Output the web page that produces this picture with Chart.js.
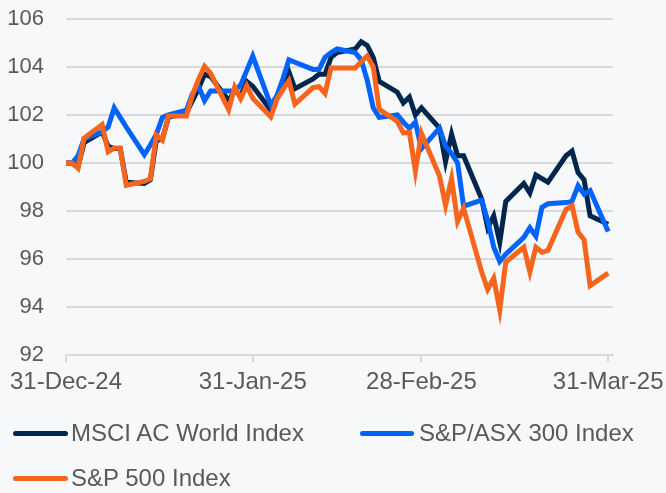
<!DOCTYPE html>
<html>
<head>
<meta charset="utf-8">
<script src="https://cdn.jsdelivr.net/npm/chart.js@4.4.1/dist/chart.umd.min.js"></script>
<style>
  body { margin: 0; background: #f7f8fa; }
  #wrap { position: relative; width: 666px; height: 493px; }
  .key { position: absolute; height: 5px; border-radius: 3px; }
  .lbl { position: absolute; font: 24px "Liberation Sans", Arial, sans-serif; line-height: 24px; color: #595959; white-space: nowrap; }
</style>
</head>
<body>
<div id="wrap">
  <canvas id="chart" width="666" height="493"></canvas>
  <div class="key" style="left:13px;top:431px;width:55px;background:#00264d"></div>
  <div class="lbl" style="left:71px;top:421px">MSCI AC World Index</div>
  <div class="key" style="left:360px;top:431px;width:54px;background:#0063fa"></div>
  <div class="lbl" style="left:419px;top:421px">S&amp;P/ASX 300 Index</div>
  <div class="key" style="left:13px;top:476px;width:55px;background:#f5651e"></div>
  <div class="lbl" style="left:71px;top:466px">S&amp;P 500 Index</div>
</div>
<script>
// trading days (holidays carried forward)
const dates = [
  '2024-12-31',
  '2025-01-01', '2025-01-02', '2025-01-03',
  '2025-01-06', '2025-01-07', '2025-01-08', '2025-01-09', '2025-01-10',
  '2025-01-13', '2025-01-14', '2025-01-15', '2025-01-16', '2025-01-17',
  '2025-01-20', '2025-01-21', '2025-01-22', '2025-01-23', '2025-01-24',
  '2025-01-27', '2025-01-28', '2025-01-29', '2025-01-30', '2025-01-31',
  '2025-02-03', '2025-02-04', '2025-02-05', '2025-02-06', '2025-02-07',
  '2025-02-10', '2025-02-11', '2025-02-12', '2025-02-13', '2025-02-14',
  '2025-02-17', '2025-02-18', '2025-02-19', '2025-02-20', '2025-02-21',
  '2025-02-24', '2025-02-25', '2025-02-26', '2025-02-27', '2025-02-28',
  '2025-03-03', '2025-03-04', '2025-03-05', '2025-03-06', '2025-03-07',
  '2025-03-10', '2025-03-11', '2025-03-12', '2025-03-13', '2025-03-14',
  '2025-03-17', '2025-03-18', '2025-03-19', '2025-03-20', '2025-03-21',
  '2025-03-24', '2025-03-25', '2025-03-26', '2025-03-27', '2025-03-28',
  '2025-03-31'
];

const msciAcwi = [
  100.0,
  100.0, 99.85, 100.85,
  101.3, 100.7, 100.6, 100.6, 99.2,
  99.15, 99.3, 100.95, 101.0, 101.9,
  102.1, 102.6, 103.1, 103.7, 103.6,
  102.6, 103.0, 102.8, 103.4, 103.2,
  102.2, 102.7, 103.2, 103.8, 103.1,
  103.5, 103.7, 103.7, 104.4, 104.6,
  104.75, 105.05, 104.9, 104.4, 103.4,
  102.95, 102.5, 102.75, 102.0, 102.3,
  101.45, 100.05, 101.2, 100.3, 100.3,
  98.5, 97.3, 97.8, 96.7, 98.4,
  99.15, 98.75, 99.5, 99.35, 99.2,
  100.3, 100.5, 99.6, 99.3, 97.8,
  97.45
];

const asx300 = [
  100.0,
  100.0, 100.3, 101.0,
  101.3, 101.5, 102.3, 101.9, 101.5,
  100.35, 100.75, 101.2, 101.9, 102.0,
  102.2, 102.9, 103.2, 102.6, 103.0,
  103.0, 103.0, 103.25, 103.85, 104.45,
  102.4, 102.8, 103.5, 104.3, 104.2,
  103.9, 103.9, 104.4, 104.6, 104.75,
  104.6, 104.3, 103.45, 102.3, 101.9,
  102.0, 101.7, 101.45, 101.7, 100.6,
  101.45, 100.7, 100.4, 100.0, 98.2,
  98.45, 97.6, 96.5, 95.9, 96.2,
  96.9, 97.3, 96.95, 98.15, 98.3,
  98.35, 98.4, 99.05, 98.7, 98.85,
  97.15
];

const sp500 = [
  100.0,
  100.0, 99.78, 101.03,
  101.6, 100.47, 100.62, 100.62, 99.07,
  99.23, 99.34, 101.16, 100.95, 101.96,
  101.96, 102.85, 103.48, 104.03, 103.73,
  102.22, 103.16, 102.68, 103.22, 102.7,
  101.92, 102.66, 103.06, 103.43, 102.45,
  103.14, 103.18, 102.9, 103.97, 103.96,
  103.96, 104.22, 104.46, 104.01, 102.24,
  101.73, 101.25, 101.27, 99.66, 101.24,
  99.46, 98.24, 99.34, 97.57, 98.11,
  95.46, 94.74, 95.2, 93.88, 95.87,
  96.49, 95.46, 96.49, 96.28, 96.36,
  98.06, 98.22, 97.12, 96.8, 94.89,
  95.41
];

const tickDates = ['2024-12-31', '2025-01-31', '2025-02-28', '2025-03-31'];
const tickLabels = ['31-Dec-24', '31-Jan-25', '28-Feb-25', '31-Mar-25'];

// days since start, so the x axis is proportional to calendar time
const dayOf = s => (Date.parse(s) - Date.parse(dates[0])) / 86400000;
const toPoints = vals => vals.map((v, i) => ({ x: dayOf(dates[i]), y: v }));
const tickDays = tickDates.map(dayOf);

const gridColor = '#d9d9d9';
const textColor = '#595959';

new Chart(document.getElementById('chart'), {
  type: 'line',
  data: {
    datasets: [
      { label: 'MSCI AC World Index', data: toPoints(msciAcwi), borderColor: '#00264d', order: 3 },
      { label: 'S&P/ASX 300 Index', data: toPoints(asx300), borderColor: '#0063fa', order: 2 },
      { label: 'S&P 500 Index', data: toPoints(sp500), borderColor: '#f5651e', order: 1 }
    ]
  },
  options: {
    responsive: false,
    animation: false,
    events: [],
    elements: {
      line: { borderWidth: 5, tension: 0, fill: false },
      point: { radius: 0 }
    },
    layout: { padding: { top: 19, right: 53, bottom: 93, left: 0 } },
    plugins: { legend: { display: false }, tooltip: { enabled: false } },
    scales: {
      x: {
        type: 'linear',
        min: 0,
        max: 90.8,
        afterBuildTicks: scale => { scale.ticks = tickDays.map(v => ({ value: v })); },
        afterFit: scale => {
          scale.height = 45;
          scale.paddingLeft = 0;
          scale.paddingRight = 0;
        },
        grid: { drawOnChartArea: false, drawTicks: true, tickLength: 7, color: gridColor, lineWidth: 2 },
        border: { display: true, color: gridColor, width: 2 },
        ticks: {
          autoSkip: false,
          maxRotation: 0,
          padding: 6,
          color: textColor,
          font: { family: '"Liberation Sans", Arial, sans-serif', size: 24 },
          callback: v => tickLabels[tickDays.indexOf(v)]
        }
      },
      y: {
        min: 92,
        max: 106,
        afterFit: scale => {
          scale.width = 66;
          scale.paddingTop = 0;
          scale.paddingBottom = 0;
        },
        grid: { drawTicks: false, color: gridColor, lineWidth: 2 },
        border: { display: false },
        ticks: {
          stepSize: 2,
          padding: 22,
          color: textColor,
          font: { family: '"Liberation Sans", Arial, sans-serif', size: 22 }
        }
      }
    }
  }
});
</script>
</body>
</html>
